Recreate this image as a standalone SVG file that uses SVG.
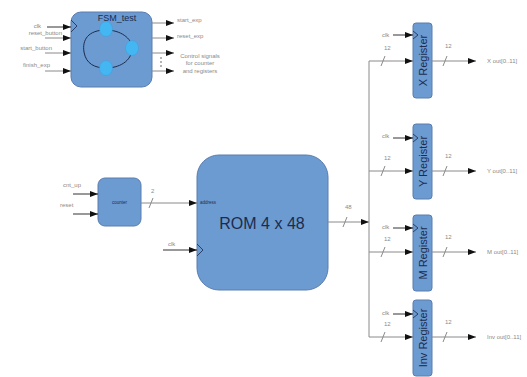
<svg xmlns="http://www.w3.org/2000/svg" width="527" height="377" viewBox="0 0 527 377">
<style>
.blk{fill:#6c9bd2;stroke:#5a7cae;stroke-width:1}
.ln{fill:none;stroke:#8a8a8a;stroke-width:1}
.dk{fill:none;stroke:#333;stroke-width:1}
.lbl{font-family:"Liberation Sans",Arial,sans-serif;font-size:6px;fill:#8a8a8a}
.ttl{font-family:"Liberation Sans",Arial,sans-serif;fill:#1c2c4c}
.chev{fill:none;stroke:#2a3f66;stroke-width:1}
.st{fill:#44b6f2;stroke:#3a9fd8;stroke-width:0.5}
</style>
<defs>
<marker id="ah" markerWidth="8" markerHeight="6" refX="8" refY="3" orient="auto" markerUnits="userSpaceOnUse">
<path d="M0,0 L8,3 L0,6 Z" fill="#111"/>
</marker>
</defs>
<rect width="527" height="377" fill="#fff"/>

<g id="fsm">
<rect class="blk" x="71" y="12" width="81" height="75" rx="10"/>
<path class="chev" d="M71,20 L77,26 L71,32"/>
<text class="ttl" x="117" y="21" font-size="9" text-anchor="middle">FSM_test</text>
<path d="M106,30 C88,30 82,40 84,52 C86,64 95,68 106,68 C118,68 132,62 132,48 C132,38 120,30 106,30 Z" fill="none" stroke="#1c2c4c" stroke-width="1"/>
<ellipse class="st" cx="106" cy="29" rx="6.5" ry="7.5"/>
<ellipse class="st" cx="132" cy="48" rx="6.5" ry="7.5"/>
<ellipse class="st" cx="106" cy="68" rx="6.5" ry="7.5"/>
<text class="lbl" x="41" y="28" text-anchor="end">clk</text>
<text class="lbl" x="62" y="35" text-anchor="end">reset_button</text>
<text class="lbl" x="52" y="50" text-anchor="end">start_button</text>
<text class="lbl" x="50" y="67" text-anchor="end">finish_exp</text>
<text class="lbl" x="177" y="22">start_exp</text>
<text class="lbl" x="177" y="38">reset_exp</text>
<text class="lbl" x="200" y="58" text-anchor="middle">Control signals</text>
<text class="lbl" x="200" y="65" text-anchor="middle">for counter</text>
<text class="lbl" x="200" y="73" text-anchor="middle">and registers</text>
<circle cx="161" cy="58" r="0.7" fill="#333"/>
<circle cx="161" cy="62" r="0.7" fill="#333"/>
<circle cx="161" cy="66" r="0.7" fill="#333"/>
</g>

<g id="counter">
<rect class="blk" x="98" y="178" width="43" height="48" rx="7"/>
<text class="ttl" x="119.5" y="204" font-size="4.5" text-anchor="middle">counter</text>
<text class="lbl" x="63" y="187">cnt_up</text>
<text class="lbl" x="60" y="207">reset</text>
</g>

<g id="rom">
<rect class="blk" x="197" y="155" width="131" height="135" rx="22"/>
<path class="chev" d="M197,244 L203,250 L197,256"/>
<text class="ttl" x="200" y="204" font-size="4.5">address</text>
<text class="ttl" x="262" y="229" font-size="16" text-anchor="middle">ROM 4 x 48</text>
<text class="lbl" x="168" y="246">clk</text>
</g>

<g id="xreg">
<rect class="blk" x="413" y="23" width="19" height="75" rx="3"/>
<path class="chev" d="M413,31 L418,35 L413,39"/>
<text class="ttl" font-size="11" text-anchor="middle" transform="translate(426.5,60.5) rotate(-90)">X Register</text>
<text class="lbl" x="382" y="37">clk</text>
<text class="lbl" x="487" y="63">X out[0..11]</text>
</g>
<g id="yreg">
<rect class="blk" x="413" y="124" width="19" height="75" rx="3"/>
<path class="chev" d="M413,134 L418,138 L413,142"/>
<text class="ttl" font-size="11" text-anchor="middle" transform="translate(426.5,161.5) rotate(-90)">Y Register</text>
<text class="lbl" x="382" y="138">clk</text>
<text class="lbl" x="487" y="173">Y out[0..11]</text>
</g>
<g id="mreg">
<rect class="blk" x="413" y="215" width="19" height="76" rx="3"/>
<path class="chev" d="M413,224 L418,228 L413,232"/>
<text class="ttl" font-size="11" text-anchor="middle" transform="translate(426.5,253) rotate(-90)">M Register</text>
<text class="lbl" x="382" y="229">clk</text>
<text class="lbl" x="487" y="254">M out[0..11]</text>
</g>
<g id="invreg">
<rect class="blk" x="413" y="300" width="19" height="76" rx="3"/>
<path class="chev" d="M413,310 L418,314 L413,318"/>
<text class="ttl" font-size="11" text-anchor="middle" transform="translate(426.5,338) rotate(-90)">Inv Register</text>
<text class="lbl" x="382" y="315">clk</text>
<text class="lbl" x="487" y="339">Inv out[0..11]</text>
</g>

<g id="connectors">
<!-- FSM inputs -->
<line class="dk" x1="47" y1="27" x2="71" y2="27" marker-end="url(#ah)"/>
<line class="ln" x1="45" y1="38" x2="71" y2="38" marker-end="url(#ah)"/>
<line class="ln" x1="45" y1="53" x2="71" y2="53" marker-end="url(#ah)"/>
<line class="ln" x1="45" y1="71" x2="71" y2="71" marker-end="url(#ah)"/>
<!-- FSM outputs -->
<line class="ln" x1="152" y1="23" x2="174" y2="23" marker-end="url(#ah)"/>
<line class="ln" x1="152" y1="38" x2="174" y2="38" marker-end="url(#ah)"/>
<line class="ln" x1="152" y1="53" x2="174" y2="53" marker-end="url(#ah)"/>
<line class="ln" x1="152" y1="71" x2="174" y2="71" marker-end="url(#ah)"/>
<!-- counter -->
<line class="dk" x1="73" y1="194" x2="98" y2="194" marker-end="url(#ah)"/>
<line class="dk" x1="73" y1="214" x2="98" y2="214" marker-end="url(#ah)"/>
<line class="ln" x1="141" y1="203" x2="197" y2="203" marker-end="url(#ah)"/>
<line class="ln" x1="149" y1="208" x2="153" y2="198"/>
<text class="lbl" x="151" y="193">2</text>
<!-- ROM clk -->
<line class="dk" x1="163" y1="250" x2="197" y2="250" marker-end="url(#ah)"/>
<!-- ROM output -->
<line class="ln" x1="328" y1="222" x2="369" y2="222" marker-end="url(#ah)"/>
<line class="ln" x1="343" y1="227" x2="347" y2="217"/>
<text class="lbl" x="345" y="209">48</text>
<!-- bus -->
<path class="ln" d="M369,61 L369,337" stroke="#c8c8c8"/>
<!-- register inputs -->
<line class="ln" x1="369" y1="61" x2="413" y2="61" marker-end="url(#ah)"/>
<line class="ln" x1="369" y1="171" x2="413" y2="171" marker-end="url(#ah)"/>
<line class="ln" x1="369" y1="252" x2="413" y2="252" marker-end="url(#ah)"/>
<line class="ln" x1="369" y1="337" x2="413" y2="337" marker-end="url(#ah)"/>
<line class="ln" x1="381" y1="66" x2="385" y2="56"/>
<line class="ln" x1="381" y1="176" x2="385" y2="166"/>
<line class="ln" x1="381" y1="257" x2="385" y2="247"/>
<line class="ln" x1="381" y1="342" x2="385" y2="332"/>
<text class="lbl" x="384" y="50">12</text>
<text class="lbl" x="384" y="160">12</text>
<text class="lbl" x="384" y="241">12</text>
<text class="lbl" x="384" y="326">12</text>
<!-- register clks -->
<line class="dk" x1="393" y1="35" x2="413" y2="35" marker-end="url(#ah)"/>
<line class="dk" x1="393" y1="138" x2="413" y2="138" marker-end="url(#ah)"/>
<line class="dk" x1="393" y1="228" x2="413" y2="228" marker-end="url(#ah)"/>
<line class="dk" x1="393" y1="314" x2="413" y2="314" marker-end="url(#ah)"/>
<!-- register outputs -->
<line class="ln" x1="432" y1="61" x2="476" y2="61" marker-end="url(#ah)"/>
<line class="ln" x1="432" y1="171" x2="476" y2="171" marker-end="url(#ah)"/>
<line class="ln" x1="432" y1="252" x2="476" y2="252" marker-end="url(#ah)"/>
<line class="ln" x1="432" y1="337" x2="476" y2="337" marker-end="url(#ah)"/>
<line class="ln" x1="443" y1="66" x2="447" y2="56"/>
<line class="ln" x1="443" y1="176" x2="447" y2="166"/>
<line class="ln" x1="443" y1="257" x2="447" y2="247"/>
<line class="ln" x1="443" y1="342" x2="447" y2="332"/>
<text class="lbl" x="445" y="48">12</text>
<text class="lbl" x="445" y="158">12</text>
<text class="lbl" x="445" y="239">12</text>
<text class="lbl" x="445" y="324">12</text>
</g>
</svg>
